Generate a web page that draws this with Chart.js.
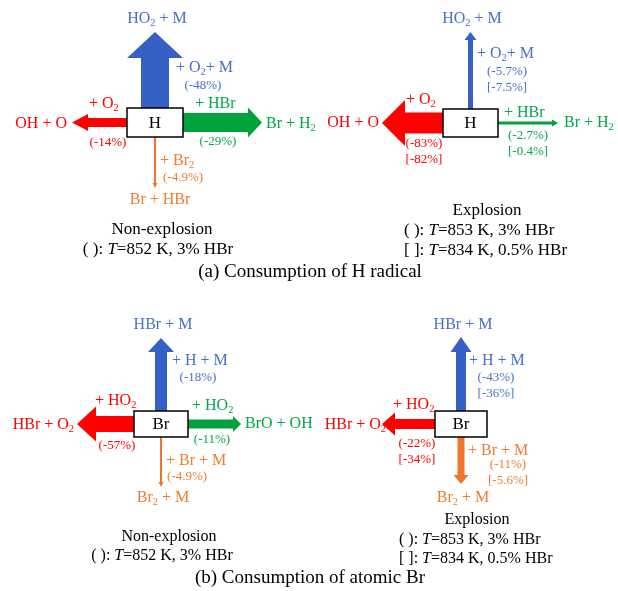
<!DOCTYPE html>
<html>
<head>
<meta charset="utf-8">
<script src="https://cdn.jsdelivr.net/npm/chart.js@4.4.1/dist/chart.umd.min.js"></script>
<style>
  html, body { margin: 0; padding: 0; background: #fff; }
  #wrap { width: 618px; height: 591px; }
</style>
</head>
<body>
<div id="wrap"><canvas id="flux" width="618" height="591"></canvas></div>
<script>
// ✅ 반응 경로 데이터 (방향 순서: 위, 왼쪽, 오른쪽, 아래)
const directions = ["up", "left", "right", "down"];
const radicals = ["H", "H", "Br", "Br"];
const caseNames = ["Non-explosion", "Explosion", "Non-explosion", "Explosion"];
const panelTitles = ["(a) Consumption of H radical", "(b) Consumption of atomic Br"];

const hPartners = ["+ O_2+ M", "+ O_2", "+ HBr", "+ Br_2"];
const hProducts = ["HO_2 + M", "OH + O", "Br + H_2", "Br + HBr"];
const brPartners = ["+ H + M", "+ HO_2", "+ HO_2", "+ Br + M"];
const brProducts = ["HBr + M", "HBr + O_2", "BrO + OH", "Br_2 + M"];

// 소비율 (%) : ( ) 3% HBr, [ ] 0.5% HBr
const hNonExp = [-48, -14, -29, -4.9];
const hExp3 = [-5.7, -83, -2.7, null];
const hExp05 = [-7.5, -82, -0.4, null];
const brNonExp = [-18, -57, -11, -4.9];
const brExp3 = [-43, -22, null, -11];
const brExp05 = [-36, -34, null, -5.6];

const condNon = ["( ): *T*=852 K, 3% HBr"];
const condExp = ["( ): *T*=853 K, 3% HBr", "[ ]: *T*=834 K, 0.5% HBr"];

const panelValues = [[hNonExp], [hExp3, hExp05], [brNonExp], [brExp3, brExp05]];
const panelPartners = [hPartners, hPartners, brPartners, brPartners];
const panelProducts = [hProducts, hProducts, brProducts, brProducts];
const panelConds = [condNon, condExp, condNon, condExp];

// ✅ 배치 (위치 / 크기)
const arrowColors = { up: "#3561c6", left: "#ff0000", right: "#00a23c", down: "#f07430" };
const textColors = { up: "#4472c4", left: "#ff0000", right: "#00a84a", down: "#ed7d31" };

const layout = [
  { cx: 155, cy: 122.5, bw: 56, bh: 29,
    arrows: {
      up:    { len: 76, shaft: 28, headW: 56, headL: 26, partner: [176, 68, "left"], pct: [203, 86], product: [157, 19, "center"] },
      left:  { len: 55, shaft: 9, headW: 17, headL: 16, partner: [89, 104, "left"], pct: [108, 143], product: [67, 124, "right"] },
      right: { len: 79, shaft: 19, headW: 30, headL: 14, partner: [195, 104, "left"], pct: [218, 142], product: [266, 124, "left"] },
      down:  { len: 51, shaft: 2, headW: 5, headL: 5, partner: [160, 161, "left"], pct: [183, 178], product: [160, 200, "center"] }
    },
    caption: { size: 17, title: [162, 230], lines: [[158, 250, "center"]] } },
  { cx: 470.5, cy: 123, bw: 55, bh: 28,
    arrows: {
      up:    { len: 77, shaft: 5, headW: 12, headL: 8, partner: [477, 54, "left"], pct: [507, 72], product: [472, 19, "center"] },
      left:  { len: 61, shaft: 21, headW: 46, headL: 23, partner: [406, 100, "left"], pct: [424, 144], product: [379, 123, "right"] },
      right: { len: 60, shaft: 3, headW: 7, headL: 6, partner: [504, 113, "left"], pct: [528, 136], product: [564, 123, "left"] }
    },
    caption: { size: 17, title: [487, 211], lines: [[404, 231, "left"], [404, 251, "left"]] } },
  { cx: 161, cy: 424, bw: 54, bh: 26,
    arrows: {
      up:    { len: 73, shaft: 12, headW: 26, headL: 14, partner: [172, 361, "left"], pct: [198, 378], product: [163, 325, "center"] },
      left:  { len: 57, shaft: 16, headW: 35, headL: 19, partner: [95, 401, "left"], pct: [117, 446], product: [74, 425, "right"] },
      right: { len: 53, shaft: 9, headW: 16, headL: 8, partner: [192, 406, "left"], pct: [212, 440], product: [245, 424, "left"] },
      down:  { len: 50, shaft: 2, headW: 5, headL: 5, partner: [166, 461, "left"], pct: [187, 477], product: [163, 498, "center"] }
    },
    caption: { size: 16, title: [169, 537], lines: [[162, 556, "center"]] } },
  { cx: 461, cy: 424, bw: 52, bh: 26,
    arrows: {
      up:    { len: 74, shaft: 10, headW: 21, headL: 15, partner: [469, 361, "left"], pct: [496, 378], product: [463, 325, "center"] },
      left:  { len: 53, shaft: 10, headW: 23, headL: 13, partner: [393, 405, "left"], pct: [417, 444], product: [386, 425, "right"] },
      down:  { len: 47, shaft: 7, headW: 15, headL: 9, partner: [468, 451, "left"], pct: [508, 465], product: [463, 498, "center"] }
    },
    caption: { size: 16, title: [477, 520], lines: [[399, 540, "left"], [399, 559, "left"]] } }
];
const titlePos = [[310, 272], [310, 578]];

const FONT = '"Liberation Serif", "Times New Roman", serif';
const unit = { up: [0, -1], down: [0, 1], left: [-1, 0], right: [1, 0] };

// ✅ 아래첨자(_2) / 이탤릭(*T*) 텍스트
function drawRich(ctx, text, x, y, size, color, align) {
  const parts = text.split(/(_\d|\*[^*]+\*)/).filter(s => s);
  let total = 0;
  const segs = parts.map(p => {
    let t = p, sub = false, it = false;
    if (p[0] === "_") { t = p.slice(1); sub = true; }
    else if (p[0] === "*") { t = p.slice(1, -1); it = true; }
    const s = sub ? size * 0.65 : size;
    const font = `${it ? "italic " : ""}${s}px ${FONT}`;
    ctx.font = font;
    const w = ctx.measureText(t).width;
    total += w;
    return { t, font, w, dy: sub ? size * 0.25 : 0 };
  });
  let sx = align === "center" ? x - total / 2 : align === "right" ? x - total : x;
  ctx.fillStyle = color;
  ctx.textBaseline = "middle";
  ctx.textAlign = "left";
  segs.forEach(s => { ctx.font = s.font; ctx.fillText(s.t, sx, y + s.dy); sx += s.w; });
}

const fmt = (v, i) => i === 0 ? `(${v}%)` : `[${v}%]`;

const fluxPlugin = {
  id: "flux",
  afterDatasetsDraw(chart) {
    const { ctx, scales: { x: xs, y: ys } } = chart;
    const px = v => xs.getPixelForValue(v);
    const py = v => ys.getPixelForValue(v);
    ctx.save();

    layout.forEach((L, p) => {
      const center = chart.data.datasets[0].data[p];
      const cx = center.x, cy = center.y;

      directions.forEach((dir, k) => {
        const A = L.arrows[dir];
        const vals = panelValues[p].map(arr => arr[k]).filter(v => v !== null);
        if (!A || vals.length === 0) return;
        const [ux, uy] = unit[dir];
        const half = ux !== 0 ? L.bw / 2 : L.bh / 2;
        const sx = cx + ux * half, sy = cy + uy * half;
        const tx = sx + ux * A.len, ty = sy + uy * A.len;
        const bx = tx - ux * A.headL, by = ty - uy * A.headL;
        const nx = -uy, ny = ux; // 수직 방향
        const pts = [
          [sx + nx * A.shaft / 2, sy + ny * A.shaft / 2],
          [bx + nx * A.shaft / 2, by + ny * A.shaft / 2],
          [bx + nx * A.headW / 2, by + ny * A.headW / 2],
          [tx, ty],
          [bx - nx * A.headW / 2, by - ny * A.headW / 2],
          [bx - nx * A.shaft / 2, by - ny * A.shaft / 2],
          [sx - nx * A.shaft / 2, sy - ny * A.shaft / 2]
        ];
        ctx.beginPath();
        pts.forEach(([a, b], i) => i ? ctx.lineTo(px(a), py(b)) : ctx.moveTo(px(a), py(b)));
        ctx.closePath();
        ctx.fillStyle = arrowColors[dir];
        ctx.fill();

        const col = textColors[dir];
        drawRich(ctx, panelPartners[p][k], px(A.partner[0]), py(A.partner[1]), 16, col, A.partner[2]);
        drawRich(ctx, panelProducts[p][k], px(A.product[0]), py(A.product[1]), 16, col, A.product[2]);
        panelValues[p].forEach((arr, i) => {
          if (arr[k] === null) return;
          drawRich(ctx, fmt(arr[k], i), px(A.pct[0]), py(A.pct[1] + i * 16), 13, col, "center");
        });
      });

      // 라디칼 박스
      ctx.fillStyle = "#fff";
      ctx.fillRect(px(cx - L.bw / 2), py(cy - L.bh / 2), L.bw, L.bh);
      ctx.strokeStyle = "#000";
      ctx.lineWidth = 1.5;
      ctx.strokeRect(px(cx - L.bw / 2), py(cy - L.bh / 2), L.bw, L.bh);
      drawRich(ctx, radicals[p], px(cx), py(cy + 1), 17, "#000", "center");

      // 조건 설명
      const C = L.caption;
      drawRich(ctx, caseNames[p], px(C.title[0]), py(C.title[1]), C.size, "#000", "center");
      panelConds[p].forEach((line, i) => {
        const [lx, ly, la] = C.lines[i];
        drawRich(ctx, line, px(lx), py(ly), C.size, "#000", la);
      });
    });

    panelTitles.forEach((t, i) => drawRich(ctx, t, px(titlePos[i][0]), py(titlePos[i][1]), 19, "#000", "center"));
    ctx.restore();
  }
};

// ✅ 차트 생성 (축은 숨기고 픽셀 좌표계 그대로 사용)
new Chart(document.getElementById("flux"), {
  type: "scatter",
  data: {
    datasets: [{
      label: "radicals",
      data: layout.map(L => ({ x: L.cx, y: L.cy })),
      pointRadius: 0
    }]
  },
  options: {
    responsive: false,
    animation: false,
    layout: { padding: 0 },
    plugins: { legend: { display: false }, tooltip: { enabled: false } },
    scales: {
      x: { type: "linear", min: 0, max: 618, display: false },
      y: { type: "linear", min: 0, max: 591, reverse: true, display: false }
    }
  },
  plugins: [fluxPlugin]
});
</script>
</body>
</html>
